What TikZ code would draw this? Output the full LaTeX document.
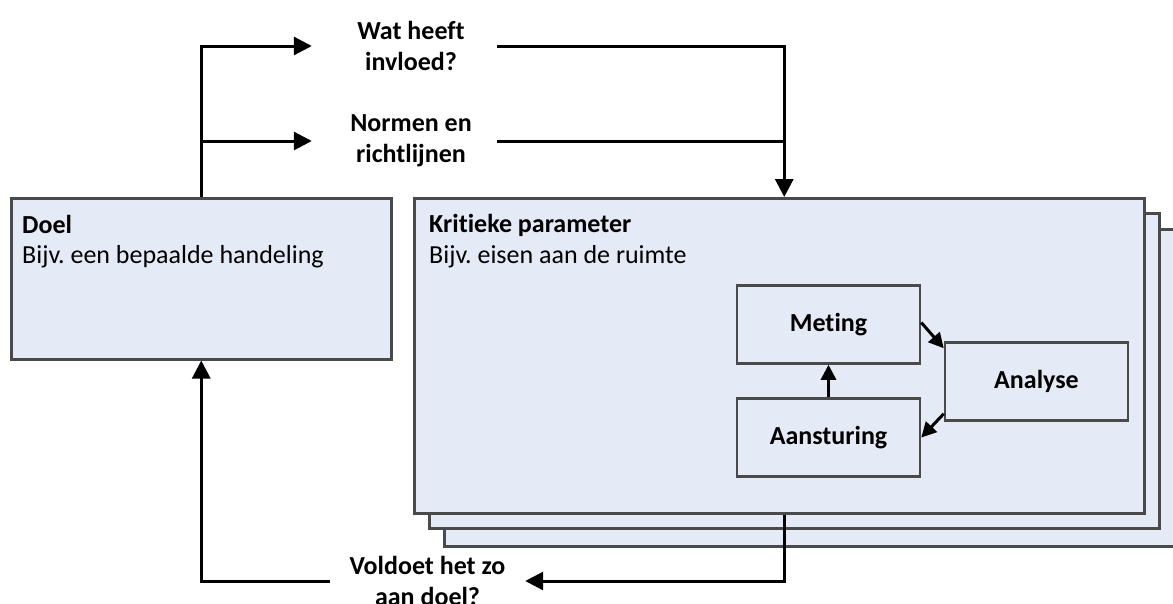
\documentclass[tikz,border=0pt]{standalone}
\usepackage{fontspec}
\setmainfont[Ligatures={NoCommon}]{Carlito}
\usetikzlibrary{arrows.meta}
\definecolor{panelfill}{HTML}{E5EBF6}
\definecolor{panelline}{HTML}{4A4A4A}
\frenchspacing
\begin{document}
\begin{tikzpicture}[x=1pt,y=-1pt,
  every node/.style={font=\fontsize{26}{31}\selectfont},
  panel/.style={draw=panelline, fill=panelfill, line width=2.5pt, inner sep=0pt, anchor=north west},
  inbox/.style={draw=panelline, fill=panelfill, line width=2.5pt, minimum width=183pt, minimum height=78pt, inner sep=0pt, font=\fontsize{26}{31}\selectfont\bfseries},
  caption/.style={align=center, inner sep=0pt, font=\fontsize{26}{31}\selectfont\bfseries},
  txt/.style={anchor=base west, inner sep=0pt},
  wire/.style={line width=3pt},
  conn/.style={wire, -{Triangle[length=18pt,width=18pt]}},
  smallconn/.style={wire, -{Triangle[length=15pt,width=15pt]}}]
\useasboundingbox (0,0) rectangle (1173,603);

% stacked parameter panels, back to front
\node[panel, minimum width=760pt, minimum height=317pt] (krit3) at (443,228) {};
\node[panel, minimum width=730pt, minimum height=315pt] (krit2) at (428,212) {};
\node[panel, minimum width=730pt, minimum height=315pt] (krit) at (413,197) {};
\node[txt, font=\fontsize{26}{31}\selectfont\bfseries] (kritT) at (429,232) {Kritieke parameter};
\node[txt] (kritS) at (429,263) {Bijv. eisen aan de ruimte};

% goal panel
\node[panel, minimum width=380pt, minimum height=161pt] (doel) at (10,197) {};
\node[txt, font=\fontsize{26}{31}\selectfont\bfseries] (doelT) at (22,233) {Doel};
\node[txt] (doelS) at (22,263) {Bijv. een bepaalde handeling};

% control loop inside the parameter panel
\node[inbox] (meting) at (828.5,324.5) {Meting};
\node[inbox] (analyse) at (1036.5,381.5) {Analyse};
\node[inbox] (sturing) at (828.5,437.5) {Aansturing};

% questions along the outer loop
\node[caption, minimum width=198pt] (wat) at (411,46) {Wat heeft\\invloed?};
\node[caption, minimum width=198pt] (norm) at (411,141) {Normen en\\richtlijnen};
\node[caption, minimum width=195pt] (vold) at (427.5,581) {Voldoet het zo\\aan doel?};

\coordinate (kin) at ([xshift=5pt]krit.north);
\coordinate (kout) at ([xshift=5pt]krit.south);
\coordinate (watout) at ([xshift=-13pt]wat.east);
\coordinate (normout) at ([xshift=-13pt]norm.east);

% outer loop connectors
\draw[conn] (doel.north) |- (wat.west);
\draw[conn] (doel.north) |- (norm.west);
\draw[conn] (watout) -| (kin);
\draw[wire] (normout) -- (normout -| kin);
\draw[conn] (kout) |- (vold.east);
\draw[conn] (vold.west) -| (doel.south);

% inner loop connectors
\draw[smallconn] ([yshift=2pt]meting.east) -- ([yshift=-7pt]analyse.north west);
\draw[smallconn] ([yshift=8pt]analyse.south west) -- (sturing.east);
\draw[smallconn] (sturing.north) -- (meting.south);
\end{tikzpicture}
\end{document}
